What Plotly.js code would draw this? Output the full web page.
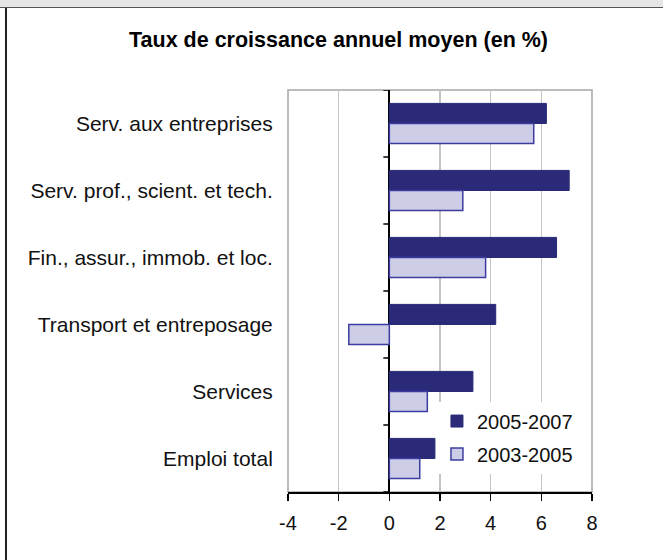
<!DOCTYPE html>
<html>
<head>
<meta charset="utf-8">
<script src="https://cdn.plot.ly/plotly-3.0.1.min.js"></script>
<style>
  html, body { margin: 0; padding: 0; background: #ffffff; }
  #strip { position: absolute; left: 0; top: 0; width: 663px; height: 7px; background: #e6e6e6; border-bottom: 1px solid #555555; }
  #leftline { position: absolute; left: 5px; top: 8px; width: 2px; height: 552px; background: #222222; }
  #chart { position: absolute; left: 0; top: 0; width: 663px; height: 560px; }
</style>
</head>
<body>
<div id="strip"></div>
<div id="leftline"></div>
<div id="chart"></div>
<script>
const categories = [
  "Serv. aux entreprises",
  "Serv. prof., scient. et tech.",
  "Fin., assur., immob. et loc.",
  "Transport et entreposage",
  "Services",
  "Emploi total"
];
const seriesNames = ["2005-2007", "2003-2005"];
const values2005_2007 = [6.2, 7.1, 6.6, 4.2, 3.3, 1.8];
const values2003_2005 = [5.7, 2.9, 3.8, -1.6, 1.5, 1.2];
const xTickValues = [-4, -2, 0, 2, 4, 6, 8];
const titleText = "Taux de croissance annuel moyen (en %)";

const FONT = "Arial, 'Liberation Sans', sans-serif";

const traces = [
  {
    type: "bar", orientation: "h", name: seriesNames[0],
    y: categories, x: values2005_2007,
    marker: { color: "rgb(42,42,120)", line: { color: "rgb(42,42,120)", width: 1 } },
    legendgroup: "a", hoverinfo: "x+y"
  },
  {
    type: "bar", orientation: "h", name: seriesNames[1],
    y: categories, x: values2003_2005,
    marker: { color: "rgb(205,205,232)", line: { color: "rgb(60,60,160)", width: 1.5 } },
    legendgroup: "b", hoverinfo: "x+y"
  }
];

// small tick marks on the vertical zero axis, at category boundaries
const shapes = [
  { type: "rect", xref: "paper", yref: "paper", x0: 0, x1: 1, y0: 0, y1: 1,
    line: { color: "#a6a6a6", width: 1.5 }, layer: "below" }
];
for (let i = 0; i <= categories.length; i++) {
  shapes.push({
    type: "line", xref: "x", yref: "y", xsizemode: "pixel", xanchor: 0,
    x0: -6, x1: 0, y0: i - 0.5, y1: i - 0.5,
    line: { color: "#000000", width: 1.5 }
  });
}

const layout = {
  width: 663, height: 560,
  paper_bgcolor: "rgba(0,0,0,0)",
  plot_bgcolor: "#ffffff",
  margin: { l: 288, r: 71, t: 90, b: 68 },
  font: { family: FONT, color: "#111111" },
  title: {
    text: titleText,
    font: { family: FONT, size: 21.5, color: "#000000", weight: "bold" },
    xref: "container", x: 0.5106, xanchor: "center",
    yref: "container", y: 1 - 39 / 560, yanchor: "middle"
  },
  barmode: "group", bargap: 0.4, bargroupgap: 0,
  xaxis: {
    range: [-4, 8], tickvals: xTickValues, ticktext: xTickValues.map(String),
    showgrid: true, gridcolor: "#c4c4c4", gridwidth: 1.5,
    zeroline: true, zerolinecolor: "#000000", zerolinewidth: 2,
    showline: true, linecolor: "#000000", linewidth: 2,
    ticks: "outside", ticklen: 7, tickwidth: 1.5, tickcolor: "#000000",
    ticklabelstandoff: 5,
    tickfont: { family: FONT, size: 20, color: "#111111" },
    fixedrange: true
  },
  yaxis: {
    type: "category", categoryorder: "array", categoryarray: categories,
    range: [categories.length - 0.5, -0.5],
    showgrid: false, zeroline: false, showline: false,
    ticks: "outside", ticklen: 10, tickcolor: "rgba(0,0,0,0)",
    tickfont: { family: FONT, size: 21, color: "#111111" },
    fixedrange: true
  },
  showlegend: true,
  legend: {
    x: 0.49, xanchor: "left", y: 0.225, yanchor: "top",
    bgcolor: "#ffffff", borderwidth: 0,
    traceorder: "grouped", tracegroupgap: 4,
    font: { family: FONT, size: 20, color: "#111111" }
  },
  shapes: shapes
};

Plotly.newPlot("chart", traces, layout, { displayModeBar: false, staticPlot: true });
</script>
</body>
</html>
